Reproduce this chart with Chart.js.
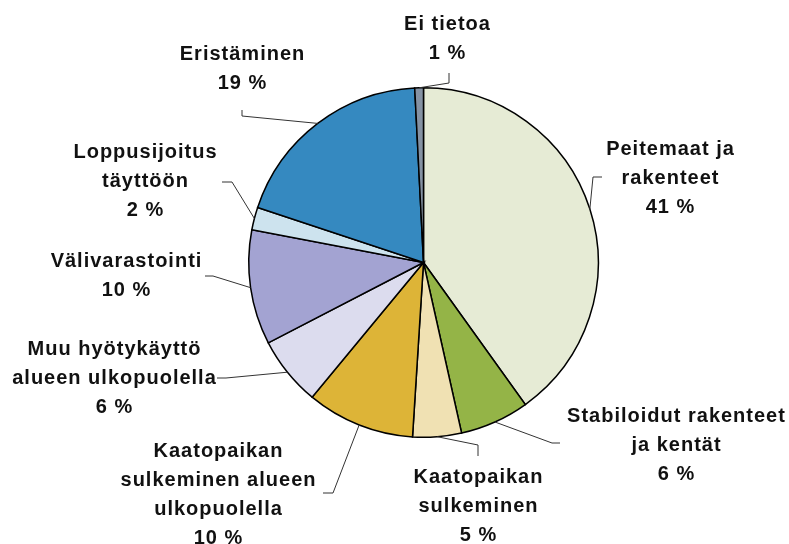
<!DOCTYPE html>
<html>
<head>
<meta charset="utf-8">
<script src="https://cdn.jsdelivr.net/npm/chart.js@4/dist/chart.umd.min.js"></script>
<style>
  html, body { margin: 0; padding: 0; background: #fff; }
  #wrap { width: 789px; height: 544px; position: relative; }
</style>
</head>
<body>
<div id="wrap"><canvas id="pie"></canvas></div>
<script>
// Kategoriat (rivitetty kuten kuvassa)
var categories = [
    ["Peitemaat ja", "rakenteet"],
    ["Stabiloidut rakenteet", "ja kentät"],
    ["Kaatopaikan", "sulkeminen"],
    ["Kaatopaikan", "sulkeminen alueen", "ulkopuolella"],
    ["Muu hyötykäyttö", "alueen ulkopuolella"],
    ["Välivarastointi"],
    ["Loppusijoitus", "täyttöön"],
    ["Eristäminen"],
    ["Ei tietoa"]
];
// Osuudet (%), luettu kuvasta
var shares = [40.1, 6.4, 4.5, 10.0, 6.4, 10.6, 2.1, 19.1, 0.8];
// Kuvassa näkyvät prosenttitekstit
var percentLabels = ["41 %", "6 %", "5 %", "10 %", "6 %", "10 %", "2 %", "19 %", "1 %"];
var sliceColors = ["#E6EBD5", "#94B447", "#F0E1B3", "#DDB437", "#DCDCEE", "#A3A3D2", "#CDE3EE", "#3589C0", "#8592A3"];

// Tekstien paikat: keskikohta x, ensimmäisen rivin perusviiva y, johtoviivan taitepisteet
var labelPos = [
    { x: 670, y: 155, lead: [[602, 177], [593, 177]] },
    { x: 676, y: 422, lead: [[560, 443], [552, 443]] },
    { x: 478, y: 483, lead: [[478, 456], [478, 445]] },
    { x: 218, y: 457, lead: [[323, 493], [333, 493]] },
    { x: 114, y: 355, lead: [[217, 378], [226, 378]] },
    { x: 126, y: 267, lead: [[205, 276], [213, 276]] },
    { x: 145, y: 158, lead: [[222, 182], [232, 182]] },
    { x: 242, y: 60,  lead: [[242, 110], [242, 116]] },
    { x: 447, y: 30,  lead: [[449, 73], [449, 83]] }
];
var LINE_H = 29;

// Piirtää tekstit ja johtoviivat
var labelPlugin = {
    id: "pieLabels",
    afterDraw: function (chart) {
        var ctx = chart.ctx,
            arcs = chart.getDatasetMeta(0).data;
        ctx.save();
        // johtoviivat
        ctx.strokeStyle = "#333";
        ctx.lineWidth = 1;
        for (let i = 0; i < arcs.length; i++) {
            let a = arcs[i],
                mid = (a.startAngle + a.endAngle) / 2,
                ex = a.x + Math.cos(mid) * a.outerRadius,
                ey = a.y + Math.sin(mid) * a.outerRadius,
                pts = labelPos[i].lead;
            ctx.beginPath();
            ctx.moveTo(pts[0][0], pts[0][1]);
            ctx.lineTo(pts[1][0], pts[1][1]);
            ctx.lineTo(ex, ey);
            ctx.stroke();
        }
        // tekstit
        ctx.fillStyle = "#111";
        ctx.font = "bold 20px 'Liberation Sans', Arial, sans-serif";
        ctx.textAlign = "center";
        ctx.textBaseline = "alphabetic";
        if ("letterSpacing" in ctx) {
            ctx.letterSpacing = "1px";
        }
        for (let i = 0; i < categories.length; i++) {
            let lines = categories[i].concat([percentLabels[i]]),
                p = labelPos[i];
            for (let j = 0; j < lines.length; j++) {
                ctx.fillText(lines[j], p.x + 0.5, p.y + j * LINE_H);
            }
        }
        ctx.restore();
    }
};

var canvas = document.querySelector("#pie");
new Chart(canvas, {
    type: "pie",
    data: {
        labels: categories.map(function (c) { return c.join(" "); }),
        datasets: [{
            data: shares,
            backgroundColor: sliceColors,
            borderColor: "#000",
            borderWidth: 1.5,
            borderJoinStyle: "miter"
        }]
    },
    options: {
        responsive: true,
        maintainAspectRatio: false,
        animation: false,
        layout: { padding: { left: 248, right: 190, top: 87, bottom: 106 } },
        plugins: {
            legend: { display: false },
            tooltip: { enabled: false }
        }
    },
    plugins: [labelPlugin]
});
</script>
</body>
</html>
